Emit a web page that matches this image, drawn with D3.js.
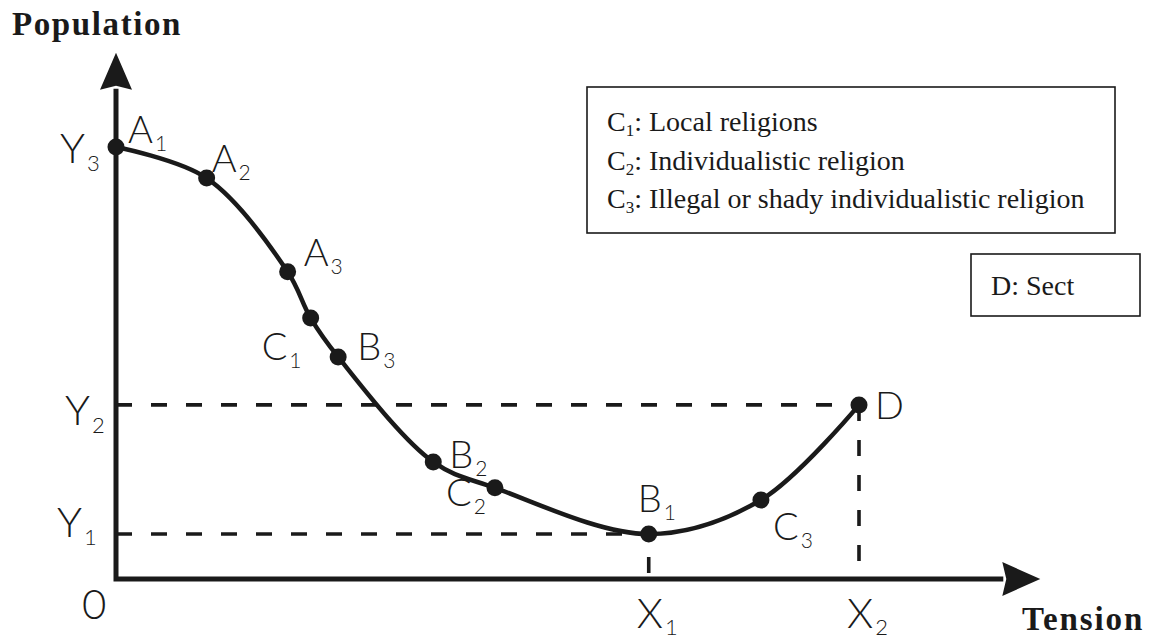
<!DOCTYPE html>
<html>
<head>
<meta charset="utf-8">
<script src="https://cdn.jsdelivr.net/npm/d3@7"></script>
<style>
  html, body { margin: 0; padding: 0; background: #fff; }
  svg { display: block; }
</style>
</head>
<body>
<svg id="chart" width="1149" height="642"></svg>
<script>
// Points on the curve: letter, subscript, tension (x) and population (y)
const pointLetters = ["A", "A", "A", "C", "B", "B", "C", "B", "C", "D"];
const pointSubs    = ["1", "2", "3", "1", "3", "2", "2", "1", "3", ""];
const tension      = [0, 12.2, 23.1, 26.2, 29.9, 42.7, 51.0, 71.7, 86.8, 100];
const population   = [100, 92.8, 71.1, 60.4, 51.4, 27.1, 21.1, 10.4, 18.3, 40.3];

// Reference levels marked on the axes
const yLevelSubs   = ["1", "2", "3"];
const yLevelValues = [10.4, 40.3, 100];
const xLevelSubs   = ["1", "2"];
const xLevelValues = [71.7, 100];

// Dashed guides: start and end in data units
const guideFrom = [[0, 40.3], [0, 10.4], [100, 40.3], [71.7, 0]];
const guideTo   = [[100, 40.3], [71.7, 10.4], [100, 0], [71.7, 10.4]];

// Legend entries
const legendKeys  = ["1", "2", "3"];
const legendTexts = [": Local religions", ": Individualistic religion", ": Illegal or shady individualistic religion"];
const sectText = "D: Sect";

// ---- layout ----
const x = d3.scaleLinear().domain([0, 100]).range([116, 859]);
const y = d3.scaleLinear().domain([0, 100]).range([579, 147]);
const xAxisEnd = 124.4, yAxisEnd = 121.8;

const svg = d3.select("#chart");
const ink = "#1a1a1a";
const labelFont = "Lato, 'DejaVu Sans', sans-serif";
const serif = "'Liberation Serif', 'Times New Roman', serif";

// label offsets (px) from each curve point to the main letter's baseline-left
const labelOffset = [[12, -4], [5, -6], [16, -6], [-49, 42], [19, 3], [16, 6], [-49, 18], [-11, -22], [12, 40], [16, 14]];

function subLabel(g, px, py, letter, sub, size, subSize, subDy) {
  const t = g.append("text")
    .attr("x", px).attr("y", py)
    .attr("font-family", labelFont)
    .attr("font-weight", 300)
    .attr("font-size", size)
    .attr("fill", ink);
  t.append("tspan").text(letter);
  if (sub) {
    t.append("tspan").attr("dx", 2).attr("dy", subDy).attr("font-size", subSize).text(sub);
  }
  return t;
}

// dashed guides
const dashOffsets = [0, 0, 0, 29];
guideFrom.forEach((f, i) => {
  const to = guideTo[i];
  svg.append("line")
    .attr("x1", x(f[0])).attr("y1", y(f[1]))
    .attr("x2", x(to[0])).attr("y2", y(to[1]))
    .attr("stroke", ink)
    .attr("stroke-width", 3.6)
    .attr("stroke-dasharray", "16,19")
    .attr("stroke-dashoffset", dashOffsets[i]);
});

// axes with arrowheads
svg.append("path")
  .attr("d", d3.line()([[x(0), y(yAxisEnd) + 36], [x(0), y(0)], [x(xAxisEnd) - 37, y(0)]]))
  .attr("fill", "none")
  .attr("stroke", ink)
  .attr("stroke-width", 5)
  .attr("stroke-linejoin", "miter");
svg.append("path")
  .attr("d", `M${x(0)},${y(yAxisEnd)} L${x(0) - 16},${y(yAxisEnd) + 37} L${x(0)},${y(yAxisEnd) + 33} L${x(0) + 16},${y(yAxisEnd) + 37} Z`)
  .attr("fill", ink);
svg.append("path")
  .attr("d", `M${x(xAxisEnd)},${y(0)} L${x(xAxisEnd) - 38},${y(0) - 17} L${x(xAxisEnd) - 34},${y(0)} L${x(xAxisEnd) - 38},${y(0) + 17} Z`)
  .attr("fill", ink);

// the curve
const pts = tension.map((t, i) => [x(t), y(population[i])]);
svg.append("path")
  .attr("d", d3.line().curve(d3.curveCatmullRom.alpha(0.5))(pts))
  .attr("fill", "none")
  .attr("stroke", ink)
  .attr("stroke-width", 4.5)
  .attr("stroke-linecap", "round");

// points
svg.selectAll("circle.pt")
  .data(pts)
  .join("circle")
  .attr("class", "pt")
  .attr("cx", d => d[0]).attr("cy", d => d[1])
  .attr("r", 8.5)
  .attr("fill", ink);

// point labels
const lab = svg.append("g");
pts.forEach((p, i) => {
  subLabel(lab, p[0] + labelOffset[i][0], p[1] + labelOffset[i][1], pointLetters[i], pointSubs[i], 38, 21, 8);
});

// axis level labels
const yLabelOffset = [[-59, 3], [-51, 20], [-56, 16]];
yLevelValues.forEach((v, i) => {
  subLabel(lab, x(0) + yLabelOffset[i][0], y(v) + yLabelOffset[i][1], "Y", yLevelSubs[i], 42, 22, 8);
});
xLevelValues.forEach((v, i) => {
  subLabel(lab, x(v) - 12, y(0) + 49, "X", xLevelSubs[i], 42, 22, 7);
});
subLabel(lab, x(0) - 34, y(0) + 40, "0", "", 42, 22, 0);

// axis titles
svg.append("text")
  .attr("x", 12).attr("y", 35)
  .attr("font-family", serif).attr("font-weight", "bold")
  .attr("font-size", 33).attr("letter-spacing", 1.6)
  .attr("fill", ink)
  .text("Population");
svg.append("text")
  .attr("x", 1022).attr("y", 630)
  .attr("font-family", serif).attr("font-weight", "bold")
  .attr("font-size", 33).attr("letter-spacing", 1.9)
  .attr("fill", ink)
  .text("Tension");

// legend box
const leg = svg.append("g");
leg.append("rect")
  .attr("x", 587).attr("y", 87).attr("width", 528).attr("height", 146)
  .attr("fill", "#fff").attr("stroke", ink).attr("stroke-width", 1.6);
legendKeys.forEach((k, i) => {
  const t = leg.append("text")
    .attr("x", 607).attr("y", 131 + i * 38.5)
    .attr("font-family", serif).attr("font-size", 28).attr("fill", ink);
  t.append("tspan").text("C");
  t.append("tspan").attr("font-size", 17).attr("dy", 5).text(k);
  t.append("tspan").attr("dy", -5).text(legendTexts[i]);
});

// sect box
leg.append("rect")
  .attr("x", 971).attr("y", 254).attr("width", 169).attr("height", 62)
  .attr("fill", "#fff").attr("stroke", ink).attr("stroke-width", 1.6);
leg.append("text")
  .attr("x", 991).attr("y", 295)
  .attr("font-family", serif).attr("font-size", 28).attr("fill", ink)
  .text(sectText);
</script>
</body>
</html>
